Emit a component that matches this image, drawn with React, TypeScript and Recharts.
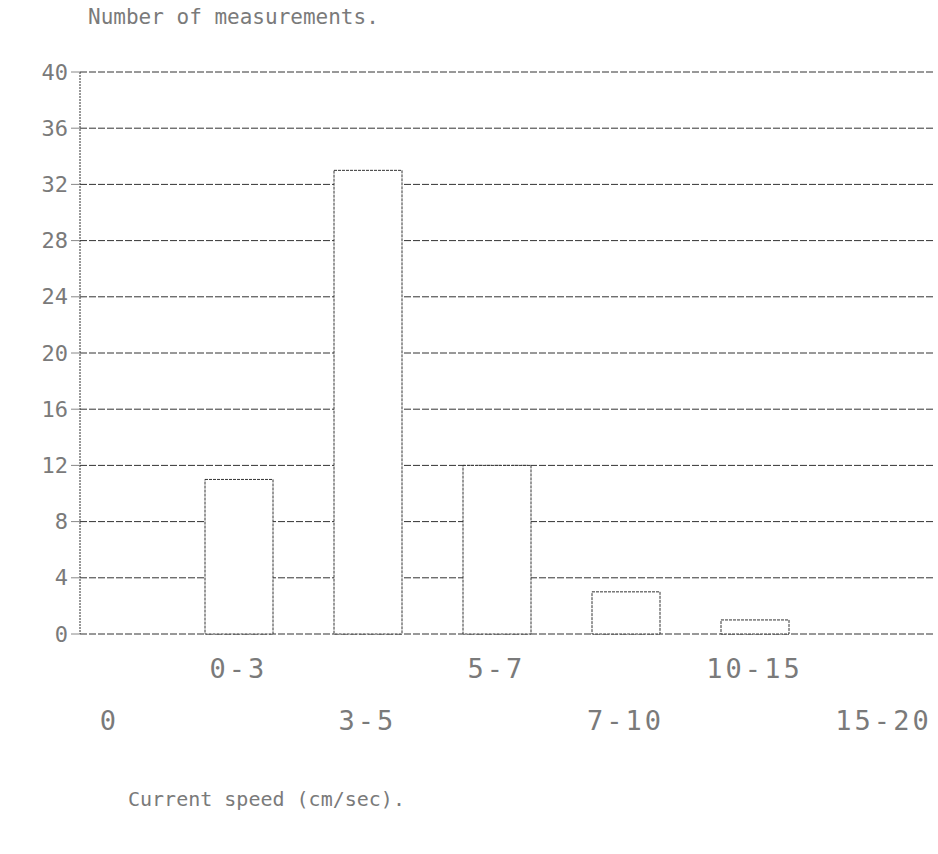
import React from "react";
import { BarChart, Bar, XAxis, YAxis, CartesianGrid } from "recharts";

// speed classes (cm/sec) and how many measurements fell in each
const speedClasses = ["0", "0-3", "3-5", "5-7", "7-10", "10-15", "15-20"];
const measurementCounts = [0, 11, 33, 12, 3, 1, 0];
const countTicks = [0, 4, 8, 12, 16, 20, 24, 28, 32, 36, 40];

const data = speedClasses.map((speed, i) => ({ speed, count: measurementCounts[i] }));

const MONO = "'DejaVu Sans Mono', 'Liberation Mono', monospace";
const TEXT_GRAY = "#7a7a7a";
const LINE = "#333";

// labels alternate between two rows, like the original plotter output
const SpeedTick = (props: any) => {
  const { x, y, payload, index } = props;
  const dy = index % 2 === 0 ? 86 : 34;
  return (
    <text
      x={x}
      y={y + dy}
      textAnchor="middle"
      dominantBaseline="central"
      fontFamily={MONO}
      fontSize={27}
      letterSpacing={3}
      fill={TEXT_GRAY}
    >
      {payload.value}
    </text>
  );
};

const CountTick = (props: any) => {
  const { x, y, payload } = props;
  return (
    <text
      x={x}
      y={y}
      textAnchor="end"
      dominantBaseline="central"
      fontFamily={MONO}
      fontSize={22}
      fill={TEXT_GRAY}
    >
      {payload.value}
    </text>
  );
};

export default function App() {
  return (
    <div style={{ position: "absolute", left: 0, top: 0, width: 938, height: 854, background: "#fff" }}>
      <div
        style={{
          position: "absolute",
          left: 88,
          top: 5,
          fontFamily: MONO,
          fontSize: 21,
          color: TEXT_GRAY,
          whiteSpace: "pre",
        }}
      >
        Number of measurements.
      </div>
      <BarChart
        width={938}
        height={854}
        data={data}
        margin={{ top: 72, right: 3, bottom: 219, left: 0 }}
        barSize={68}
      >
        <CartesianGrid
          vertical={false}
          stroke={LINE}
          strokeDasharray="7 2"
          horizontalValues={countTicks}
        />
        <XAxis
          dataKey="speed"
          interval={0}
          height={1}
          axisLine={false}
          tickLine={false}
          tickSize={0}
          tickMargin={0}
          padding={{ left: -35, right: -13 }}
          tick={<SpeedTick />}
        />
        <YAxis
          type="number"
          domain={[0, 40]}
          ticks={countTicks}
          width={80}
          axisLine={{ stroke: LINE, strokeDasharray: "2 1" }}
          tickLine={{ stroke: "#888" }}
          tickSize={9}
          tickMargin={3}
          tick={<CountTick />}
        />
        <Bar
          dataKey="count"
          fill="#fff"
          stroke={LINE}
          strokeDasharray="3 1"
          isAnimationActive={false}
        />
      </BarChart>
      <div
        style={{
          position: "absolute",
          left: 128,
          top: 787,
          fontFamily: MONO,
          fontSize: 20,
          color: TEXT_GRAY,
          whiteSpace: "pre",
        }}
      >
        Current speed (cm/sec).
      </div>
    </div>
  );
}
